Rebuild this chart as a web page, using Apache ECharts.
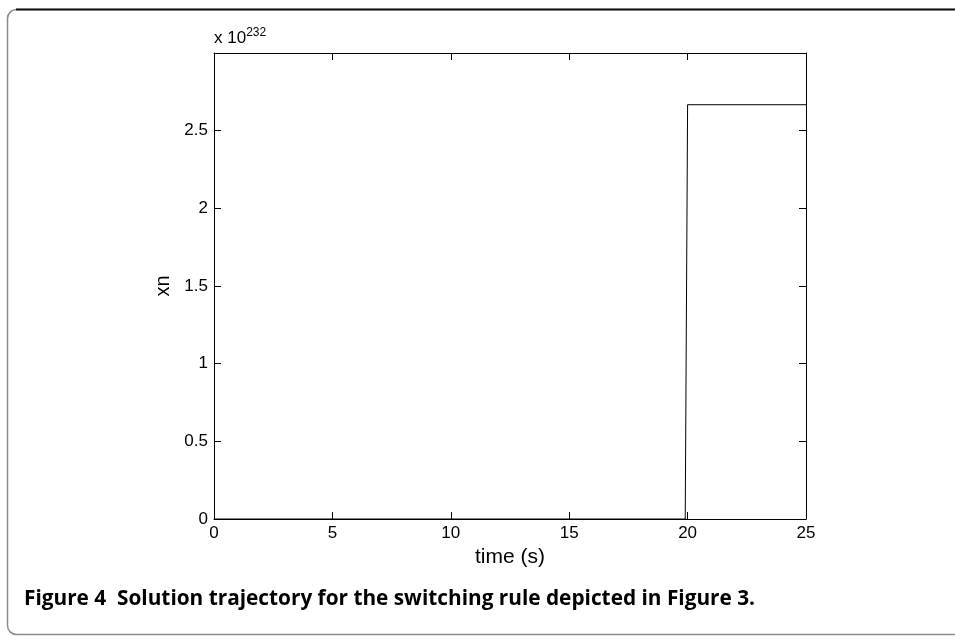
<!DOCTYPE html>
<html>
<head>
<meta charset="utf-8">
<script src="https://cdn.jsdelivr.net/npm/echarts@6/dist/echarts.min.js"></script>
<style>
html,body{margin:0;padding:0;background:#fff;}
#chart{width:955px;height:636px;}
</style>
</head>
<body>
<div id="chart"></div>
<script>
// Data (values in units of 10^232)
const timeValues = [0, 19.9, 20, 25];
const xnValues = [0, 0, 2.667, 2.667];
const xTicks = [0, 5, 10, 15, 20, 25];
const yTicks = [0, 0.5, 1, 1.5, 2, 2.5];
const xLabel = 'time (s)';
const yLabel = 'xn';
const exponentText = '232';
const captionBold = 'Figure 4  Solution trajectory for the switching rule depicted in Figure 3.';

const chart = echarts.init(document.getElementById('chart'), null, {renderer: 'canvas'});
const FONT = 'Liberation Sans, Arial, Helvetica, sans-serif';
const lineStyle = {color: '#000', width: 1};
const labelFont = {fontFamily: FONT, fontSize: 17, color: '#000'};
const tickCfg = {show: true, inside: true, length: 7, lineStyle: lineStyle};

const option = {
  backgroundColor: '#fff',
  animation: false,
  grid: {left: 214, top: 53, width: 592, height: 466, containLabel: false},
  xAxis: [{
    type: 'value', min: 0, max: 25, interval: 5, position: 'bottom',
    axisLine: {show: true, onZero: false, lineStyle: lineStyle},
    axisTick: tickCfg,
    splitLine: {show: false},
    axisLabel: Object.assign({margin: 6, formatter: v => xTicks.includes(v) ? String(v) : ''}, labelFont),
    name: xLabel, nameLocation: 'middle', nameGap: 28,
    nameTextStyle: {fontFamily: FONT, fontSize: 21, color: '#000'}
  }, {
    type: 'value', min: 0, max: 25, interval: 5, position: 'top',
    axisLine: {show: true, onZero: false, lineStyle: lineStyle},
    axisTick: tickCfg,
    splitLine: {show: false}, axisLabel: {show: false}
  }],
  yAxis: [{
    type: 'value', min: 0, max: 3, interval: 0.5, position: 'left',
    axisLine: {show: true, onZero: false, lineStyle: lineStyle},
    axisTick: tickCfg,
    splitLine: {show: false},
    axisLabel: Object.assign({margin: 6, showMaxLabel: false, formatter: v => yTicks.includes(v) ? String(v) : ''}, labelFont),
    name: yLabel, nameLocation: 'middle', nameGap: 34, nameRotate: 90,
    nameTextStyle: {fontFamily: FONT, fontSize: 20, color: '#000'}
  }, {
    type: 'value', min: 0, max: 3, interval: 0.5, position: 'right',
    axisLine: {show: true, onZero: false, lineStyle: lineStyle},
    axisTick: tickCfg,
    splitLine: {show: false}, axisLabel: {show: false}
  }],
  series: [{
    type: 'line',
    xAxisIndex: 0, yAxisIndex: 0,
    data: timeValues.map((t, i) => [t, xnValues[i]]),
    showSymbol: false, symbol: 'none',
    lineStyle: {color: '#000', width: 1},
    z: 1
  }],
  graphic: [
    {type: 'rect', shape: {x: 7.5, y: 9.5, width: 1000, height: 625, r: 9},
     style: {fill: 'none', stroke: '#8a8a8a', lineWidth: 1.5}, silent: true},
    {type: 'line', shape: {x1: 16, y1: 9.5, x2: 955, y2: 9.5},
     style: {stroke: '#111', lineWidth: 2}, silent: true},
    {type: 'text', left: 214, top: 27,
     style: {
       text: '{b|x 10}{s|' + exponentText + '}',
       rich: {
         b: {fontFamily: FONT, fontSize: 17, color: '#000', verticalAlign: 'bottom', lineHeight: 20},
         s: {fontFamily: FONT, fontSize: 12, color: '#000', verticalAlign: 'top', lineHeight: 20, padding: [0,0,9,0]}
       }
     }},
    {type: 'text', left: 24, top: 589,
     style: {text: captionBold, fontFamily: 'Open Sans, sans-serif', fontWeight: 'bold', fontSize: 20.8, fill: '#000'}}
  ]
};
chart.setOption(option);
</script>
</body>
</html>
